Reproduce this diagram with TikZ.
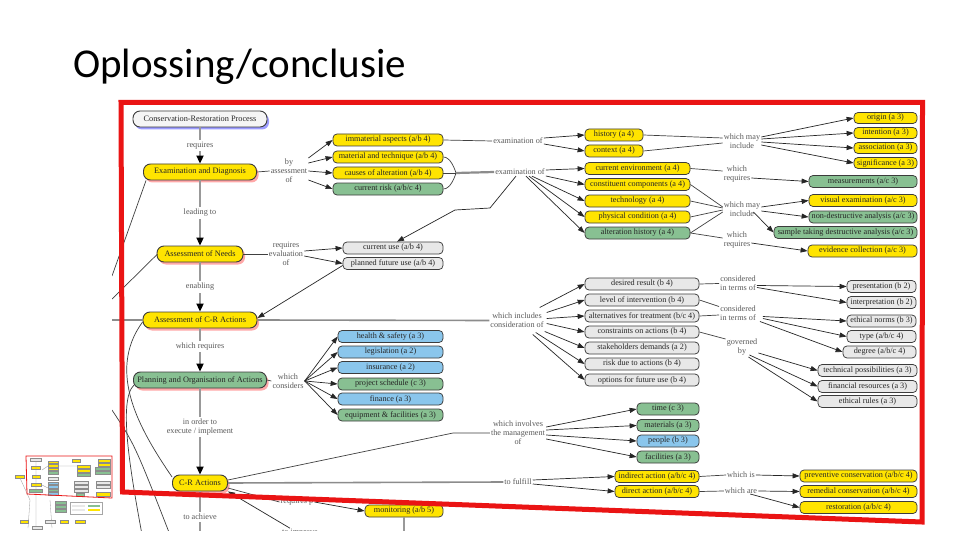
\documentclass[tikz,border=0pt]{standalone}
\usepackage{fontspec}
\setmainfont{Liberation Serif}
\newfontfamily\titlefont{Carlito}
\usetikzlibrary{arrows.meta,shadows}
\definecolor{cyY}{RGB}{255,228,0}
\definecolor{cyG}{RGB}{136,192,146}
\definecolor{cyB}{RGB}{138,198,236}
\definecolor{cyW}{RGB}{232,232,232}
\definecolor{cyRed}{RGB}{234,20,20}
\definecolor{cyEdge}{RGB}{60,60,60}
\definecolor{cyLbl}{RGB}{90,90,90}
\tikzset{
  bx/.style={rounded corners=4pt, draw=cyEdge, line width=0.75pt, minimum height=12pt, inner sep=0pt, font=\fontsize{8.2}{9}\selectfont, text=black!85},
  yb/.style={bx, fill=cyY},
  gb/.style={bx, fill=cyG},
  bb/.style={bx, fill=cyB},
  wb/.style={bx, fill=cyW},
  mainbox/.style={rounded corners=7pt, draw=cyEdge, line width=0.9pt, minimum height=16pt, inner sep=0pt, font=\fontsize{8.3}{9}\selectfont, text=black!85},
  redsh/.style={drop shadow={shadow xshift=2pt, shadow yshift=-2.5pt, fill=red!85, opacity=0.4}},
  bluesh/.style={drop shadow={shadow xshift=2pt, shadow yshift=-2.5pt, fill=blue!85, opacity=0.45}},
  lbl/.style={font=\fontsize{8.2}{9}\selectfont, text=cyLbl, align=center, inner sep=1pt},
  tlbl/.style={lbl, fill=white, inner sep=2pt},
  arr/.style={-{Triangle[length=7pt,width=5pt]}, black!85, line width=0.7pt},
  ln/.style={black!75, line width=0.7pt},
  trunk/.style={black!40, line width=2.6pt},
  trunkarr/.style={trunk, -{Triangle[length=8pt,width=7pt,color=black]}},
  grayline/.style={black!45, line width=1.6pt},
  mini/.style={draw=black!45, line width=0.2pt},
}
\begin{document}
\begin{tikzpicture}[x=1pt,y=-1pt]
\useasboundingbox (0,0) rectangle (960,540);
\fill[white] (0,0) rectangle (960,540);
\node[anchor=base west, inner sep=0pt, font=\titlefont\fontsize{41}{45}\selectfont] (title) at (73,78) {Oplossing/conclusie};

\begin{scope}
\clip (112,100) rectangle (930,530);
% ---------- main column
\node[mainbox, fill=gray!8, bluesh, minimum width=134pt] (crp) at (200,119) {Conservation-Restoration Process};
\node[mainbox, fill=cyY, redsh, minimum width=113pt] (ed) at (200,172) {Examination and Diagnosis};
\node[mainbox, fill=cyY, redsh, minimum width=86pt] (an) at (200,254) {Assessment of Needs};
\node[mainbox, fill=cyY, redsh, minimum width=114pt] (aca) at (200,320) {Assessment of C-R Actions};
\node[mainbox, fill=cyG, redsh, minimum width=133pt] (poa) at (200,380) {Planning and Organisation of Actions};
\node[mainbox, fill=cyY, redsh, minimum width=55pt] (cra) at (200,483) {C-R Actions};
\coordinate (trend) at (200,545);
\draw[trunkarr] (crp.south) -- node[tlbl]{requires} (ed.north);
\draw[trunkarr] (ed.south) -- node[tlbl]{leading to} (an.north);
\draw[trunkarr] (an.south) -- node[tlbl]{enabling} (aca.north);
\draw[trunkarr] (aca.south) -- node[tlbl, pos=0.42]{which requires} (poa.north);
\draw[trunkarr] (poa.south) -- node[tlbl, pos=0.45]{in order to\\execute / implement} (cra.north);
\draw[trunk] (cra.south) -- node[tlbl, pos=0.47]{to achieve} (trend);

% ---------- left lines
\coordinate (lx1) at (112,276);
\coordinate (lx2) at (112,299);
\coordinate (lx3) at (143,540);
\coordinate (lx4a) at (112,410);
\coordinate (lx4b) at (172,540);
\draw[ln] ([xshift=3pt]ed.south west) -- (lx1);
\draw[ln] ([xshift=1pt]an.west) -- (lx2);
\draw[ln] ([yshift=-2pt]aca.west) .. controls (106,372) and (140,430) .. ([yshift=6pt]cra.west);
\draw[ln] ([yshift=-5pt,xshift=1pt]poa.west) .. controls (118,400) and (130,470) .. (lx3);
\draw[ln] (lx4a) .. controls (135,445) .. (lx4b);

% ---------- examination
\node[lbl] (by) at (289,171) {by\\assessment\\of};
\node[yb, minimum width=110pt] (ia) at (388,140) {immaterial aspects (a/b 4)};
\node[yb, minimum width=110pt] (mt) at (388,157) {material and technique (a/b 4)};
\node[yb, minimum width=110pt] (ca) at (388,173) {causes of alteration (a/b 4)};
\node[gb, minimum width=110pt] (cr) at (388,189) {current risk (a/b/c 4)};
\draw[ln] (ed.east) -- (by.west);
\draw[arr] ([yshift=13pt]by.east) -- (ia.west);
\draw[arr] ([yshift=8pt]by.east) -- (mt.west);
\draw[arr] (by.east) -- (ca.west);
\draw[arr] ([yshift=-9pt]by.east) -- (cr.west);

\node[lbl] (ex1) at (518,141) {examination of};
\node[lbl] (ex2) at (520,172) {examination of};
\draw[ln] (ia.east) -- (ex1.west);
\coordinate (jn) at (456,173);
\draw[ln] (mt.east) .. controls (450,157) and (454,167) .. (jn);
\draw[ln] (cr.east) .. controls (450,189) and (454,179) .. (jn);
\draw[ln] (ca.east) -- (jn);
\draw[grayline, line width=2.2pt] (jn) -- (ex2.west);

\node[yb, minimum width=58pt] (hi) at (614,135) {history (a 4)};
\node[yb, minimum width=58pt] (co) at (614,151) {context (a 4)};
\node[yb, minimum width=105pt] (ce) at (637.5,168.5) {current environment (a 4)};
\node[yb, minimum width=105pt] (cc) at (637.5,184.5) {constituent components (a 4)};
\node[yb, minimum width=105pt] (te) at (637.5,201) {technology (a 4)};
\node[yb, minimum width=105pt] (pc) at (637.5,217) {physical condition (a 4)};
\node[gb, minimum width=105pt] (ah) at (637.5,233) {alteration history (a 4)};
\draw[arr] ([yshift=3pt]ex1.east) -- (hi.west);
\draw[arr] ([yshift=-3pt]ex1.east) -- (co.west);
\draw[arr] ([yshift=2pt]ex2.east) -- (ce.west);
\draw[arr] ([yshift=-4pt]ex2.east) -- (cc.west);
\draw[arr] ([xshift=-14pt]ex2.south east) -- (te.west);
\draw[arr] ([xshift=-17pt]ex2.south east) -- (pc.west);
\draw[arr] ([xshift=-20pt]ex2.south east) -- (ah.west);

\node[yb, minimum width=63pt, minimum height=11pt] (ori) at (885.5,118) {origin (a 3)};
\node[yb, minimum width=63pt, minimum height=11pt] (int) at (885.5,133) {intention (a 3)};
\node[yb, minimum width=63pt, minimum height=11pt] (ass) at (885.5,148) {association (a 3)};
\node[yb, minimum width=63pt, minimum height=11pt] (sig) at (885.5,163) {significance (a 3)};
\node[gb, minimum width=108pt] (mea) at (863,181.5) {measurements (a/c 3)};
\node[yb, minimum width=108pt] (vis) at (863,200.5) {visual examination (a/c 3)};
\node[gb, minimum width=108pt] (nda) at (863,217) {non-destructive analysis (a/c 3)};
\node[gb, minimum width=143pt] (std) at (845.5,232.5) {sample taking destructive analysis (a/c 3)};
\node[yb, minimum width=109pt] (evc) at (862.5,251) {evidence collection (a/c 3)};

\node[lbl] (wm1) at (742,141) {which may\\include};
\node[lbl] (wr1) at (737,174) {which\\requires};
\node[lbl] (wm2) at (742,209) {which may\\include};
\node[lbl] (wr2) at (737,240) {which\\requires};
\draw[ln] (hi.east) -- ([yshift=3pt]wm1.west);
\draw[ln] (co.east) -- ([yshift=-2pt]wm1.west);
\draw[arr] ([yshift=4pt]wm1.east) -- (ori.west);
\draw[arr] ([yshift=2pt]wm1.east) -- (int.west);
\draw[arr] ([yshift=-1pt]wm1.east) -- (ass.west);
\draw[arr] ([yshift=-4pt]wm1.east) -- (sig.west);
\draw[ln] (ce.east) -- ([yshift=3pt]wr1.west);
\draw[arr] ([yshift=-4pt]wr1.east) -- (mea.west);
\draw[ln] (cc.east) -- ([yshift=2pt]wm2.west);
\draw[ln] (te.east) -- ([yshift=1pt]wm2.west);
\draw[ln] (pc.east) -- ([yshift=-1pt]wm2.west);
\draw[ln] (ah.east) -- ([yshift=-3pt]wm2.west);
\draw[arr] ([yshift=2pt]wm2.east) -- (vis.west);
\draw[arr] ([yshift=-2pt]wm2.east) -- (nda.west);
\draw[arr] ([xshift=-8pt,yshift=-3pt]wm2.east) -- (std.west);
\draw[ln] (ah.east) -- ([yshift=2pt]wr2.west);
\draw[arr] ([yshift=-3pt]wr2.east) -- (evc.west);

% ---------- needs
\node[lbl] (rev) at (286,254) {requires\\evaluation\\of};
\node[wb, minimum width=100pt] (cu) at (393,248) {current use (a/b 4)};
\node[wb, minimum width=100pt] (pf) at (393,263.5) {planned future use (a/b 4)};
\draw[ln] (an.east) -- (rev.west);
\draw[arr] ([yshift=3pt]rev.east) -- (cu.west);
\draw[arr] ([yshift=-2pt]rev.east) -- (pf.west);
\coordinate (b1) at (490,208);
\coordinate (b2) at (455,210);
\draw[arr] ([xshift=-4pt]ex2.south) -- (b1) -- (b2) -- ([xshift=4pt]cu.north);
\draw[arr] ([yshift=-2pt]pf.west) -- ([yshift=2pt]aca.east);

% ---------- assessment of C-R actions
\node[lbl] (wic) at (517,320.5) {which includes\\consideration of};
\coordinate (hl) at (112,320);
\draw[grayline] (hl) -- (aca.west);
\draw[grayline] (aca.east) -- (wic.west);
\node[wb, minimum width=114pt] (dr) at (642,284) {desired result (b 4)};
\node[wb, minimum width=114pt] (li) at (642,300) {level of intervention (b 4)};
\node[wb, minimum width=114pt] (al) at (642,316) {alternatives for treatment (b/c 4)};
\node[wb, minimum width=114pt] (cn) at (642,332) {constraints on actions (b 4)};
\node[wb, minimum width=114pt] (sd) at (642,348) {stakeholders demands (a 2)};
\node[wb, minimum width=114pt] (rd) at (642,364) {risk due to actions (b 4)};
\node[wb, minimum width=114pt] (ofu) at (642,380) {options for future use (b 4)};
\draw[arr] ([xshift=-5pt,yshift=13pt]wic.east) -- (dr.west);
\draw[arr] ([xshift=2pt,yshift=8pt]wic.east) -- (li.west);
\draw[arr] ([xshift=2pt,yshift=2pt]wic.east) -- (al.west);
\draw[arr] ([xshift=2pt,yshift=-3pt]wic.east) -- (cn.west);
\draw[arr] ([xshift=0pt,yshift=-11pt]wic.east) -- (sd.west);
\draw[arr] ([xshift=-9pt,yshift=-12pt]wic.east) -- (rd.west);
\draw[arr] ([xshift=-12pt,yshift=-14pt]wic.east) -- (ofu.west);

\node[lbl] (ct1) at (738,283.5) {considered\\in terms of};
\node[lbl] (ct2) at (738,313.5) {considered\\in terms of};
\node[lbl] (gov) at (742,347) {governed\\by};
\node[wb, minimum width=69pt] (pre) at (881.5,286.5) {presentation (b 2)};
\node[wb, minimum width=69pt] (ipr) at (881.5,302.5) {interpretation (b 2)};
\node[wb, minimum width=69pt] (etn) at (881.5,321) {ethical norms (b 3)};
\node[wb, minimum width=69pt] (typ) at (881.5,336.5) {type (a/b/c 4)};
\node[wb, minimum width=73pt] (deg) at (879.5,352) {degree (a/b/c 4)};
\node[wb, minimum width=99pt] (tec) at (867.5,370.5) {technical possibilities (a 3)};
\node[wb, minimum width=99pt] (fin) at (867.5,386.5) {financial resources (a 3)};
\node[wb, minimum width=99pt] (etr) at (867.5,401.5) {ethical rules (a 3)};
\draw[ln] (dr.east) -- (ct1.west);
\draw[arr] ([yshift=-2pt]ct1.east) -- (pre.west);
\draw[arr] ([yshift=-4pt]ct1.east) -- (ipr.west);
\draw[ln] (li.east) -- ([yshift=7pt]ct2.west);
\draw[ln] (al.east) -- ([yshift=-1.5pt]ct2.west);
\draw[arr] ([xshift=6pt,yshift=-3pt]ct2.east) -- (etn.west);
\draw[arr] ([xshift=6pt,yshift=-5pt]ct2.east) -- (typ.west);
\draw[arr] ([xshift=3pt,yshift=-8pt]ct2.east) -- (deg.west);
\draw[ln] (cn.east) -- ([yshift=8pt]gov.west);
\draw[arr] ([yshift=-6pt]gov.east) -- (tec.west);
\draw[arr] ([xshift=-9pt,yshift=-8pt]gov.east) -- (fin.west);
\draw[arr] ([xshift=-10pt,yshift=-10pt]gov.east) -- (etr.west);

% ---------- planning
\node[lbl] (wcs) at (288,381) {which\\considers};
\node[bb, minimum width=105pt] (hs) at (390.5,336.5) {health \& safety (a 3)};
\node[bb, minimum width=105pt] (lg) at (390.5,352) {legislation (a 2)};
\node[bb, minimum width=105pt] (isu) at (390.5,367.5) {insurance (a 2)};
\node[gb, minimum width=105pt] (ps) at (390.5,384) {project schedule (c 3)};
\node[bb, minimum width=105pt] (fi) at (390.5,399) {finance (a 3)};
\node[gb, minimum width=105pt] (ef) at (390.5,415) {equipment \& facilities (a 3)};
\draw[ln] (poa.east) -- (wcs.west);
\foreach \t in {hs,lg,isu,ps,fi,ef} \draw[arr] (wcs.east) -- (\t.west);

% ---------- management
\node[lbl] (wim) at (518,433) {which involves\\the management\\of};
\coordinate (m1) at (453,433);
\draw[ln] ([yshift=3pt]cra.east) -- (m1) -- (wim.west);
\node[gb, minimum width=62pt] (tim) at (668,409) {time (c 3)};
\node[gb, minimum width=62pt] (mat) at (668,425.5) {materials (a 3)};
\node[bb, minimum width=62pt] (peo) at (668,441) {people (b 3)};
\node[gb, minimum width=62pt] (fac) at (668,457) {facilities (a 3)};
\draw[arr] ([yshift=6pt]wim.east) -- (tim.west);
\draw[arr] ([yshift=3pt]wim.east) -- (mat.west);
\draw[arr] ([yshift=-2pt]wim.east) -- (peo.west);
\draw[arr] ([yshift=-6pt]wim.east) -- (fac.west);

% ---------- C-R actions
\node[lbl] (tf) at (518,482) {to fulfill};
\draw[grayline] (cra.east) -- (tf.west);
\node[yb, minimum width=84pt] (ind) at (657,476.5) {indirect action (a/b/c 4)};
\node[yb, minimum width=84pt] (dir) at (657,491.5) {direct action (a/b/c 4)};
\draw[arr] ([yshift=2pt]tf.east) -- (ind.west);
\draw[arr] ([yshift=-2pt]tf.east) -- (dir.west);
\node[lbl] (wis) at (741,475) {which is};
\node[lbl] (war) at (741,491) {which are};
\node[yb, minimum width=117pt] (pcv) at (858.5,476) {preventive conservation (a/b/c 4)};
\node[yb, minimum width=117pt] (rmc) at (858.5,491.5) {remedial conservation (a/b/c 4)};
\node[yb, minimum width=117pt] (rst) at (858.5,507.5) {restoration (a/b/c 4)};
\draw[ln] (ind.east) -- (wis.west);
\draw[arr] (wis.east) -- (pcv.west);
\draw[ln] (dir.east) -- (war.west);
\draw[arr] (war.east) -- (rmc.west);
\draw[arr] ([xshift=-8pt,yshift=-3pt]war.east) -- (rst.west);

\node[lbl] (rqp) at (297,502) {requires p};
\node[yb, minimum width=78pt] (mon) at (404,511) {monitoring (a/b 5)};
\coordinate (mend) at (404,545);
\draw[ln] ([yshift=-5pt]cra.east) -- (rqp.west);
\draw[arr] (rqp.east) -- (mon.west);
\draw[trunk] (mon.south) -- (mend);
\node[lbl] (imp) at (300,533) {to improve};
\draw[arr] ([xshift=-10pt]imp.north) -- (cra.south east);
\end{scope}

% ---------- thumbnail
\begin{scope}
\fill[white] (13,450) rectangle (113,532);
\fill[cyW, mini] (30,458) rectangle (41,461);
\fill[cyY, mini] (31,466) rectangle (40,469);
\fill[cyY, mini] (32,475) rectangle (40,478);
\fill[cyY, mini] (31,483) rectangle (41,486);
\fill[cyG, mini] (29,489) rectangle (42,492);
\fill[cyY, mini] (15,475) rectangle (24,478);
\fill[cyY, mini] (48,461) rectangle (58,463.5);
\fill[cyY, mini] (48,464.5) rectangle (58,467);
\fill[cyY, mini] (48,468) rectangle (58,470.5);
\fill[cyG, mini] (48,471.5) rectangle (58,474);
\fill[cyW, mini] (48,477) rectangle (58,480);
\fill[cyB, mini] (48,482) rectangle (58,484.5);
\fill[cyB, mini] (48,485.5) rectangle (58,488);
\fill[cyG, mini] (48,489) rectangle (58,491.5);
\fill[cyB, mini] (48,492.5) rectangle (58,495);
\fill[cyY, mini] (72,459) rectangle (80,462);
\fill[cyY, mini] (77,465) rectangle (90,468);
\fill[cyY, mini] (77,469) rectangle (90,472);
\fill[cyG, mini] (77,473) rectangle (90,476);
\fill[cyY, mini] (98,459) rectangle (110,462);
\fill[cyY, mini] (98,463) rectangle (110,466);
\fill[cyG, mini] (95,467) rectangle (110,470);
\fill[cyG, mini] (95,471) rectangle (110,474);
\fill[cyW, mini] (74,481) rectangle (88,484);
\fill[cyW, mini] (74,485) rectangle (88,488);
\fill[cyW, mini] (74,489) rectangle (88,492);
\fill[cyW, mini] (96,481) rectangle (110,484);
\fill[cyW, mini] (96,485) rectangle (110,488);
\fill[cyG, mini] (76,493) rectangle (84,496);
\fill[cyY, mini] (96,492) rectangle (110,496);
\fill[cyG, mini] (55,501) rectangle (66,504);
\fill[cyG, mini] (55,505) rectangle (66,508);
\fill[cyG, mini] (55,509) rectangle (66,512);
\draw[black!35, line width=0.3pt] (70,502) rectangle (102,514);
\fill[cyW] (72,505) rectangle (85,507);
\fill[cyG] (88,505) rectangle (100,507);
\fill[cyW] (72,509) rectangle (85,511);
\fill[cyY] (88,509) rectangle (100,511);
\draw[black!40, line width=0.3pt] (36,461) -- (36,528) (42,470) -- (48,466) (42,485) -- (48,488) (58,466) -- (77,466) (20,478) -- (30,500) -- (28,528) (50,500) -- (52,528);
\fill[cyY, mini] (20,520) rectangle (28,523);
\fill[cyW, mini] (45,520) rectangle (55,523);
\fill[cyY, mini] (60,520) rectangle (68,523);
\fill[cyY, mini] (75,520) rectangle (85,523);
\fill[cyW, mini] (32,526) rectangle (42,529);
\draw[cyRed, line width=0.8pt] (26,456) -- (112,456) -- (112,498) -- (27,494) -- cycle;
\end{scope}

% ---------- red frame
\draw[cyRed, line width=5pt, line join=miter] (121,102.5) -- (922.5,102.5) -- (922,522) -- (122.5,492) -- cycle;
\end{tikzpicture}
\end{document}
